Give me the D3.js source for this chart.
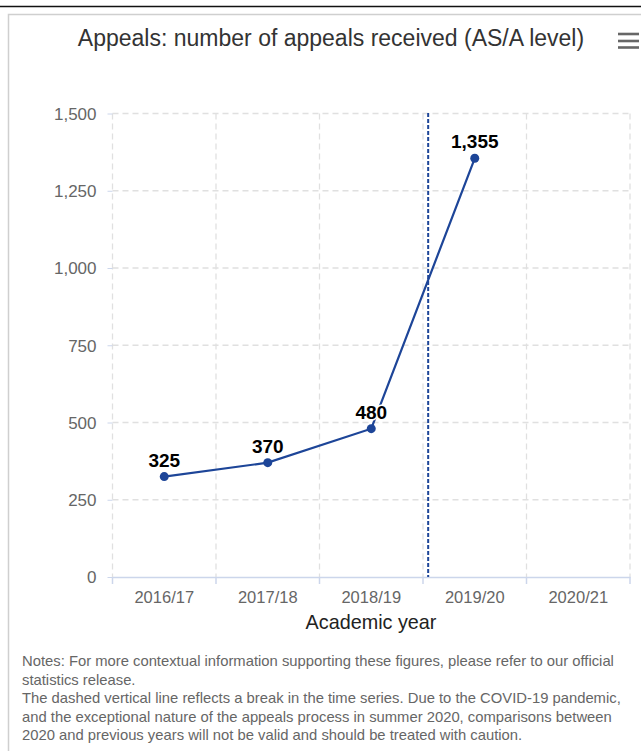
<!DOCTYPE html>
<html><head><meta charset="utf-8">
<script src="https://cdn.jsdelivr.net/npm/d3@7"></script>
<style>
html,body{margin:0;padding:0;background:#fff;}
body{width:641px;height:751px;overflow:hidden;position:relative;font-family:"Liberation Sans",Arial,sans-serif;}
</style></head>
<body>
<svg id="chart" width="641" height="751"></svg>
<script>
const title = "Appeals: number of appeals received (AS/A level)";
const categories = ["2016/17","2017/18","2018/19","2019/20","2020/21"];
const values = [325, 370, 480, 1355];
const yTicks = [0, 250, 500, 750, 1000, 1250, 1500];
const breakValue = 2.55; // category-index position of the series break
const xAxisTitle = "Academic year";
const notes = [
  "Notes: For more contextual information supporting these figures, please refer to our official",
  "statistics release.",
  "The dashed vertical line reflects a break in the time series. Due to the COVID-19 pandemic,",
  "and the exceptional nature of the appeals process in summer 2020, comparisons between",
  "2020 and previous years will not be valid and should be treated with caution."
];

const svg = d3.select("#chart");
const fmt = d3.format(",");
const blue = "#1d4598";
const FF = "Liberation Sans, Arial, sans-serif";

// page separator and container border
svg.append("line").attr("x1",0).attr("x2",641).attr("y1",6.5).attr("y2",6.5).attr("stroke","#111").attr("stroke-width",1.5);
svg.append("path").attr("d","M8.5,751 V14.5 H641").attr("fill","none").attr("stroke","#cfcfcf").attr("stroke-width",1.5);

// title
svg.append("text").attr("x",331).attr("y",46).attr("text-anchor","middle")
  .attr("font-size",23).attr("fill","#333").text(title);
// menu icon
[34,41,47.5].forEach(y=>svg.append("line").attr("x1",618).attr("x2",639).attr("y1",y).attr("y2",y)
  .attr("stroke","#666").attr("stroke-width",2.6));

const x = d3.scaleBand().domain(categories).range([112.5,630]).padding(0);
const y = d3.scaleLinear().domain([0,1500]).range([577,113.5]);
const xIdx = d3.scaleLinear().domain([-0.5, categories.length-0.5]).range([112.5,630]);

// horizontal grid
svg.append("g").selectAll("line").data(yTicks.filter(d=>d>0)).join("line")
  .attr("x1",112.5).attr("x2",630).attr("y1",d=>y(d)).attr("y2",d=>y(d))
  .attr("stroke","#e0e0e0").attr("stroke-width",1.3).attr("stroke-dasharray","6,4");
// vertical grid at category boundaries
const bounds = categories.map(c=>x(c)).concat([x.range()[1]]);
svg.append("g").selectAll("line").data(bounds).join("line")
  .attr("x1",d=>d).attr("x2",d=>d).attr("y1",113.5).attr("y2",577)
  .attr("stroke","#e0e0e0").attr("stroke-width",1.3).attr("stroke-dasharray","6,4");

// y axis
const yAxis = d3.axisLeft(y).tickValues(yTicks).tickFormat(fmt).tickSize(5).tickPadding(11);
const gy = svg.append("g").attr("transform","translate(112.5,0)").call(yAxis);
gy.select(".domain").remove();
gy.selectAll(".tick line").attr("stroke","#ccd6eb");
gy.selectAll(".tick text").attr("font-size",17).attr("fill","#666").attr("font-family",FF).attr("dy","0.35em").attr("y",0);

// x axis
const xAxis = d3.axisBottom(x).tickSize(0).tickPadding(0);
const gx = svg.append("g").attr("transform","translate(0,577)").call(xAxis);
gx.select(".domain").attr("stroke","#ccd6eb").attr("stroke-width",1.5);
gx.selectAll(".tick text").attr("font-size",16.5).attr("fill","#666").attr("font-family",FF).attr("dy",0).attr("y",26);
gx.selectAll(".bt").data(bounds).join("line").attr("class","bt")
  .attr("x1",d=>d).attr("x2",d=>d).attr("y1",0).attr("y2",7).attr("stroke","#ccd6eb").attr("stroke-width",1.5);

svg.append("text").attr("x",371).attr("y",629).attr("text-anchor","middle")
  .attr("font-size",19.8).attr("fill","#222").text(xAxisTitle);

// break line
svg.append("line").attr("x1",xIdx(breakValue)).attr("x2",xIdx(breakValue))
  .attr("y1",113).attr("y2",577).attr("stroke",blue).attr("stroke-width",2).attr("stroke-dasharray","4,2");

// series
const pts = values.map((v,i)=>({c:categories[i],v}));
const line = d3.line().x(d=>x(d.c)+x.bandwidth()/2).y(d=>y(d.v));
svg.append("path").datum(pts).attr("d",line).attr("fill","none").attr("stroke",blue).attr("stroke-width",2.2);
svg.append("g").selectAll("circle").data(pts).join("circle")
  .attr("cx",d=>x(d.c)+x.bandwidth()/2).attr("cy",d=>y(d.v)).attr("r",4.5).attr("fill",blue);
svg.append("g").selectAll("text").data(pts).join("text")
  .attr("x",d=>x(d.c)+x.bandwidth()/2).attr("y",d=>y(d.v)-10).attr("text-anchor","middle")
  .attr("font-size",19).attr("font-weight","bold").attr("fill","#000")
  .attr("stroke","#fff").attr("stroke-width",3).attr("paint-order","stroke").attr("stroke-linejoin","round")
  .text(d=>fmt(d.v));

// notes
svg.append("g").selectAll("text").data(notes).join("text")
  .attr("x",22).attr("y",(d,i)=>666+i*18.5).attr("font-size",14.8).attr("fill","#666").text(d=>d);
</script>
</body></html>
